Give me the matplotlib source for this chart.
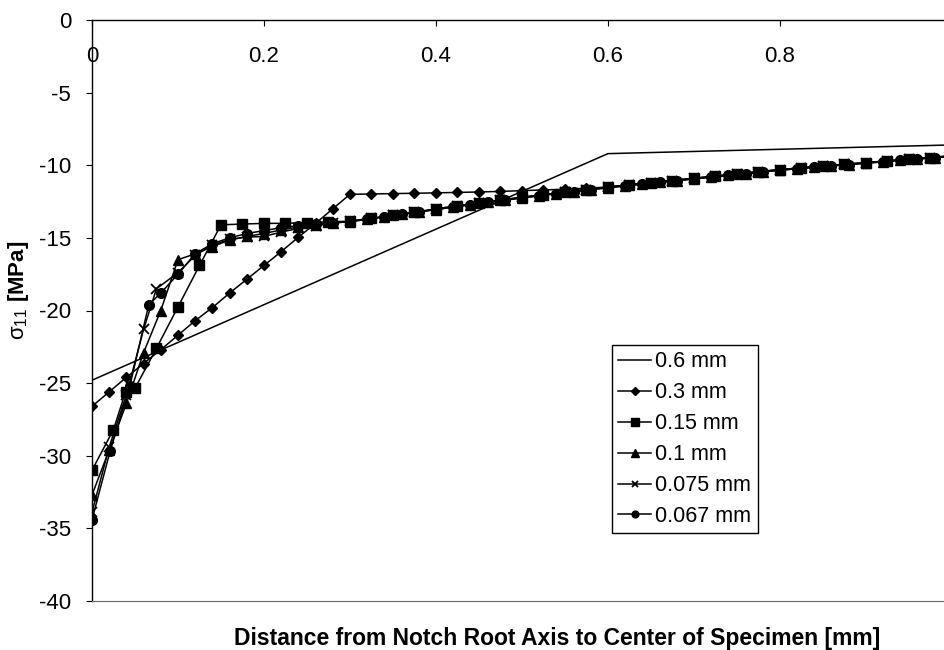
import matplotlib
matplotlib.use("Agg")
import matplotlib.pyplot as plt

plt.rcParams['font.family'] = ['Liberation Sans', 'DejaVu Sans']
plt.rcParams['mathtext.fontset'] = 'custom'
plt.rcParams['mathtext.rm'] = 'Liberation Sans'
plt.rcParams['mathtext.it'] = 'Liberation Sans:italic'
plt.rcParams['mathtext.bf'] = 'Liberation Sans:bold'
plt.rcParams['axes.unicode_minus'] = False

# far-field part of the fine-mesh curves (x in mm, stress in MPa), 0.025 mm node spacing
tail_x = [0.325, 0.35, 0.375, 0.4, 0.425, 0.45, 0.475, 0.5, 0.525, 0.55, 0.575,
          0.6, 0.625, 0.65, 0.675, 0.7, 0.725, 0.75, 0.775, 0.8, 0.825, 0.85,
          0.875, 0.9, 0.925, 0.95, 0.975, 1.0]
tail_y = [-13.65, -13.45, -13.25, -13.0, -12.8, -12.6, -12.4, -12.2, -12.02, -11.85, -11.67,
          -11.5, -11.35, -11.2, -11.05, -10.9, -10.75, -10.6, -10.45, -10.3, -10.18, -10.06,
          -9.94, -9.82, -9.7, -9.58, -9.47, -9.35]

# same region, 0.02 mm node spacing
tail2_x = [0.32, 0.34, 0.36, 0.38, 0.4, 0.42, 0.44, 0.46, 0.48, 0.5, 0.52, 0.54, 0.56,
           0.58, 0.6, 0.62, 0.64, 0.66, 0.68, 0.7, 0.72, 0.74, 0.76, 0.78, 0.8, 0.82,
           0.84, 0.86, 0.88, 0.9, 0.92, 0.94, 0.96, 0.98, 1.0]
tail2_y = [-13.72, -13.55, -13.38, -13.21, -13.05, -12.88, -12.72, -12.56, -12.4, -12.25,
           -12.1, -11.96, -11.82, -11.68, -11.55, -11.42, -11.3, -11.18, -11.06, -10.94,
           -10.82, -10.7, -10.58, -10.46, -10.34, -10.24, -10.14, -10.04, -9.95, -9.86,
           -9.76, -9.67, -9.57, -9.48, -9.39]

x_06 = [0.0, 0.6, 1.0]
y_06 = [-24.8, -9.2, -8.6]

x_03 = [0.0, 0.02, 0.04, 0.06, 0.08, 0.1, 0.12, 0.14, 0.16, 0.18, 0.2, 0.22, 0.24,
        0.26, 0.28, 0.3, 0.325, 0.35, 0.375, 0.4, 0.425, 0.45, 0.475, 0.5, 0.525,
        0.55, 0.575, 0.6] + tail_x[12:]
y_03 = [-26.6, -25.6, -24.6, -23.65, -22.7, -21.7, -20.7, -19.8, -18.8, -17.85, -16.9,
        -15.95, -14.95, -14.0, -13.0, -12.0, -11.98, -11.95, -11.93, -11.9, -11.87,
        -11.84, -11.8, -11.75, -11.7, -11.65, -11.58, -11.5] + tail_y[12:]

x_015 = [0.0, 0.025, 0.039, 0.05, 0.075, 0.1, 0.125, 0.15, 0.175, 0.2, 0.225, 0.25,
         0.275, 0.3] + tail_x
y_015 = [-31.0, -28.2, -25.6, -25.35, -22.6, -19.75, -16.9, -14.1, -14.05, -14.0,
         -14.0, -13.95, -13.9, -13.85] + tail_y

x_01 = [0.0, 0.02, 0.04, 0.06, 0.08, 0.1, 0.12, 0.14, 0.16, 0.18, 0.2, 0.22, 0.24,
        0.26, 0.28, 0.3] + tail2_x
y_01 = [-32.7, -29.6, -26.4, -22.9, -20.0, -16.5, -16.1, -15.6, -15.15, -14.9, -14.7,
        -14.45, -14.25, -14.1, -13.98, -13.88] + tail2_y

x_0075 = [0.0, 0.02, 0.04, 0.06, 0.075, 0.1, 0.12, 0.14, 0.16, 0.18, 0.2, 0.22, 0.24,
          0.26, 0.28, 0.3] + tail_x
y_0075 = [-33.9, -29.4, -25.8, -21.3, -18.5, -17.4, -16.2, -15.5, -15.1, -14.95, -14.9,
          -14.6, -14.35, -14.15, -14.0, -13.85] + tail_y

x_0067 = [0.0, 0.021, 0.044, 0.066, 0.08, 0.1, 0.12, 0.14, 0.16, 0.18, 0.2, 0.22, 0.24,
          0.26, 0.28, 0.3] + tail2_x
y_0067 = [-34.4, -29.7, -25.2, -19.6, -18.8, -17.5, -16.1, -15.4, -15.0, -14.7, -14.5,
          -14.3, -14.15, -14.05, -13.95, -13.88] + tail2_y

fig = plt.figure(figsize=(9.45, 6.5), dpi=100)
ax = fig.add_axes([92 / 945, 49 / 650, 853 / 945, 581 / 650])

lw = 1.1
ax.plot(x_06, y_06, 'k-', lw=lw, label='0.6 mm')
ax.plot(x_03, y_03, 'k-', marker='D', ms=5.5, lw=lw, label='0.3 mm')
ax.plot(x_015, y_015, 'k-', marker='s', ms=7.5, lw=lw, label='0.15 mm')
ax.plot(x_01, y_01, 'k-', marker='^', ms=7.5, lw=lw, label='0.1 mm')
ax.plot(x_0075, y_0075, 'k-', marker='x', ms=7, mew=1.3, lw=lw, label='0.075 mm')
ax.plot(x_0067, y_0067, 'k-', marker='o', ms=7, lw=lw, label='0.067 mm')

ax.set_xlim(0, 0.992)
ax.set_ylim(-40, 0)
ax.set_xticks([0, 0.2, 0.4, 0.6, 0.8])
ax.set_xticklabels(['0', '0.2', '0.4', '0.6', '0.8'])
ax.set_yticks(range(-40, 1, 5))

ax.xaxis.set_ticks_position('top')
ax.xaxis.set_label_position('bottom')
ax.tick_params(axis='x', direction='in', length=4, pad=-34, labelsize=16)
ax.tick_params(axis='y', direction='out', length=4, pad=11, labelsize=16)

ax.spines['right'].set_visible(False)
ax.spines['bottom'].set_color('#666666')
for s in ['top', 'left']:
    ax.spines[s].set_linewidth(1.0)

ax.set_xlabel('Distance from Notch Root Axis to Center of Specimen [mm]',
              fontsize=16.5, fontweight='bold')
ax.xaxis.set_label_coords(0.545, -0.045)
ax.set_ylabel(r'$\mathrm{\sigma_{11}}$ $\mathbf{[MPa]}$', fontsize=16)
ax.yaxis.set_label_coords(-0.072, 0.535)

leg = ax.legend(loc='upper left', bbox_to_anchor=(0.6096, 0.4406), borderaxespad=0,
                fontsize=15.5, frameon=True, fancybox=False, framealpha=1,
                edgecolor='black', handlelength=1.5, handletextpad=0.2,
                labelspacing=0.46, markerscale=0.7, borderpad=0.3)
leg.get_frame().set_linewidth(1.0)

fig.savefig('out.png', dpi=100)
